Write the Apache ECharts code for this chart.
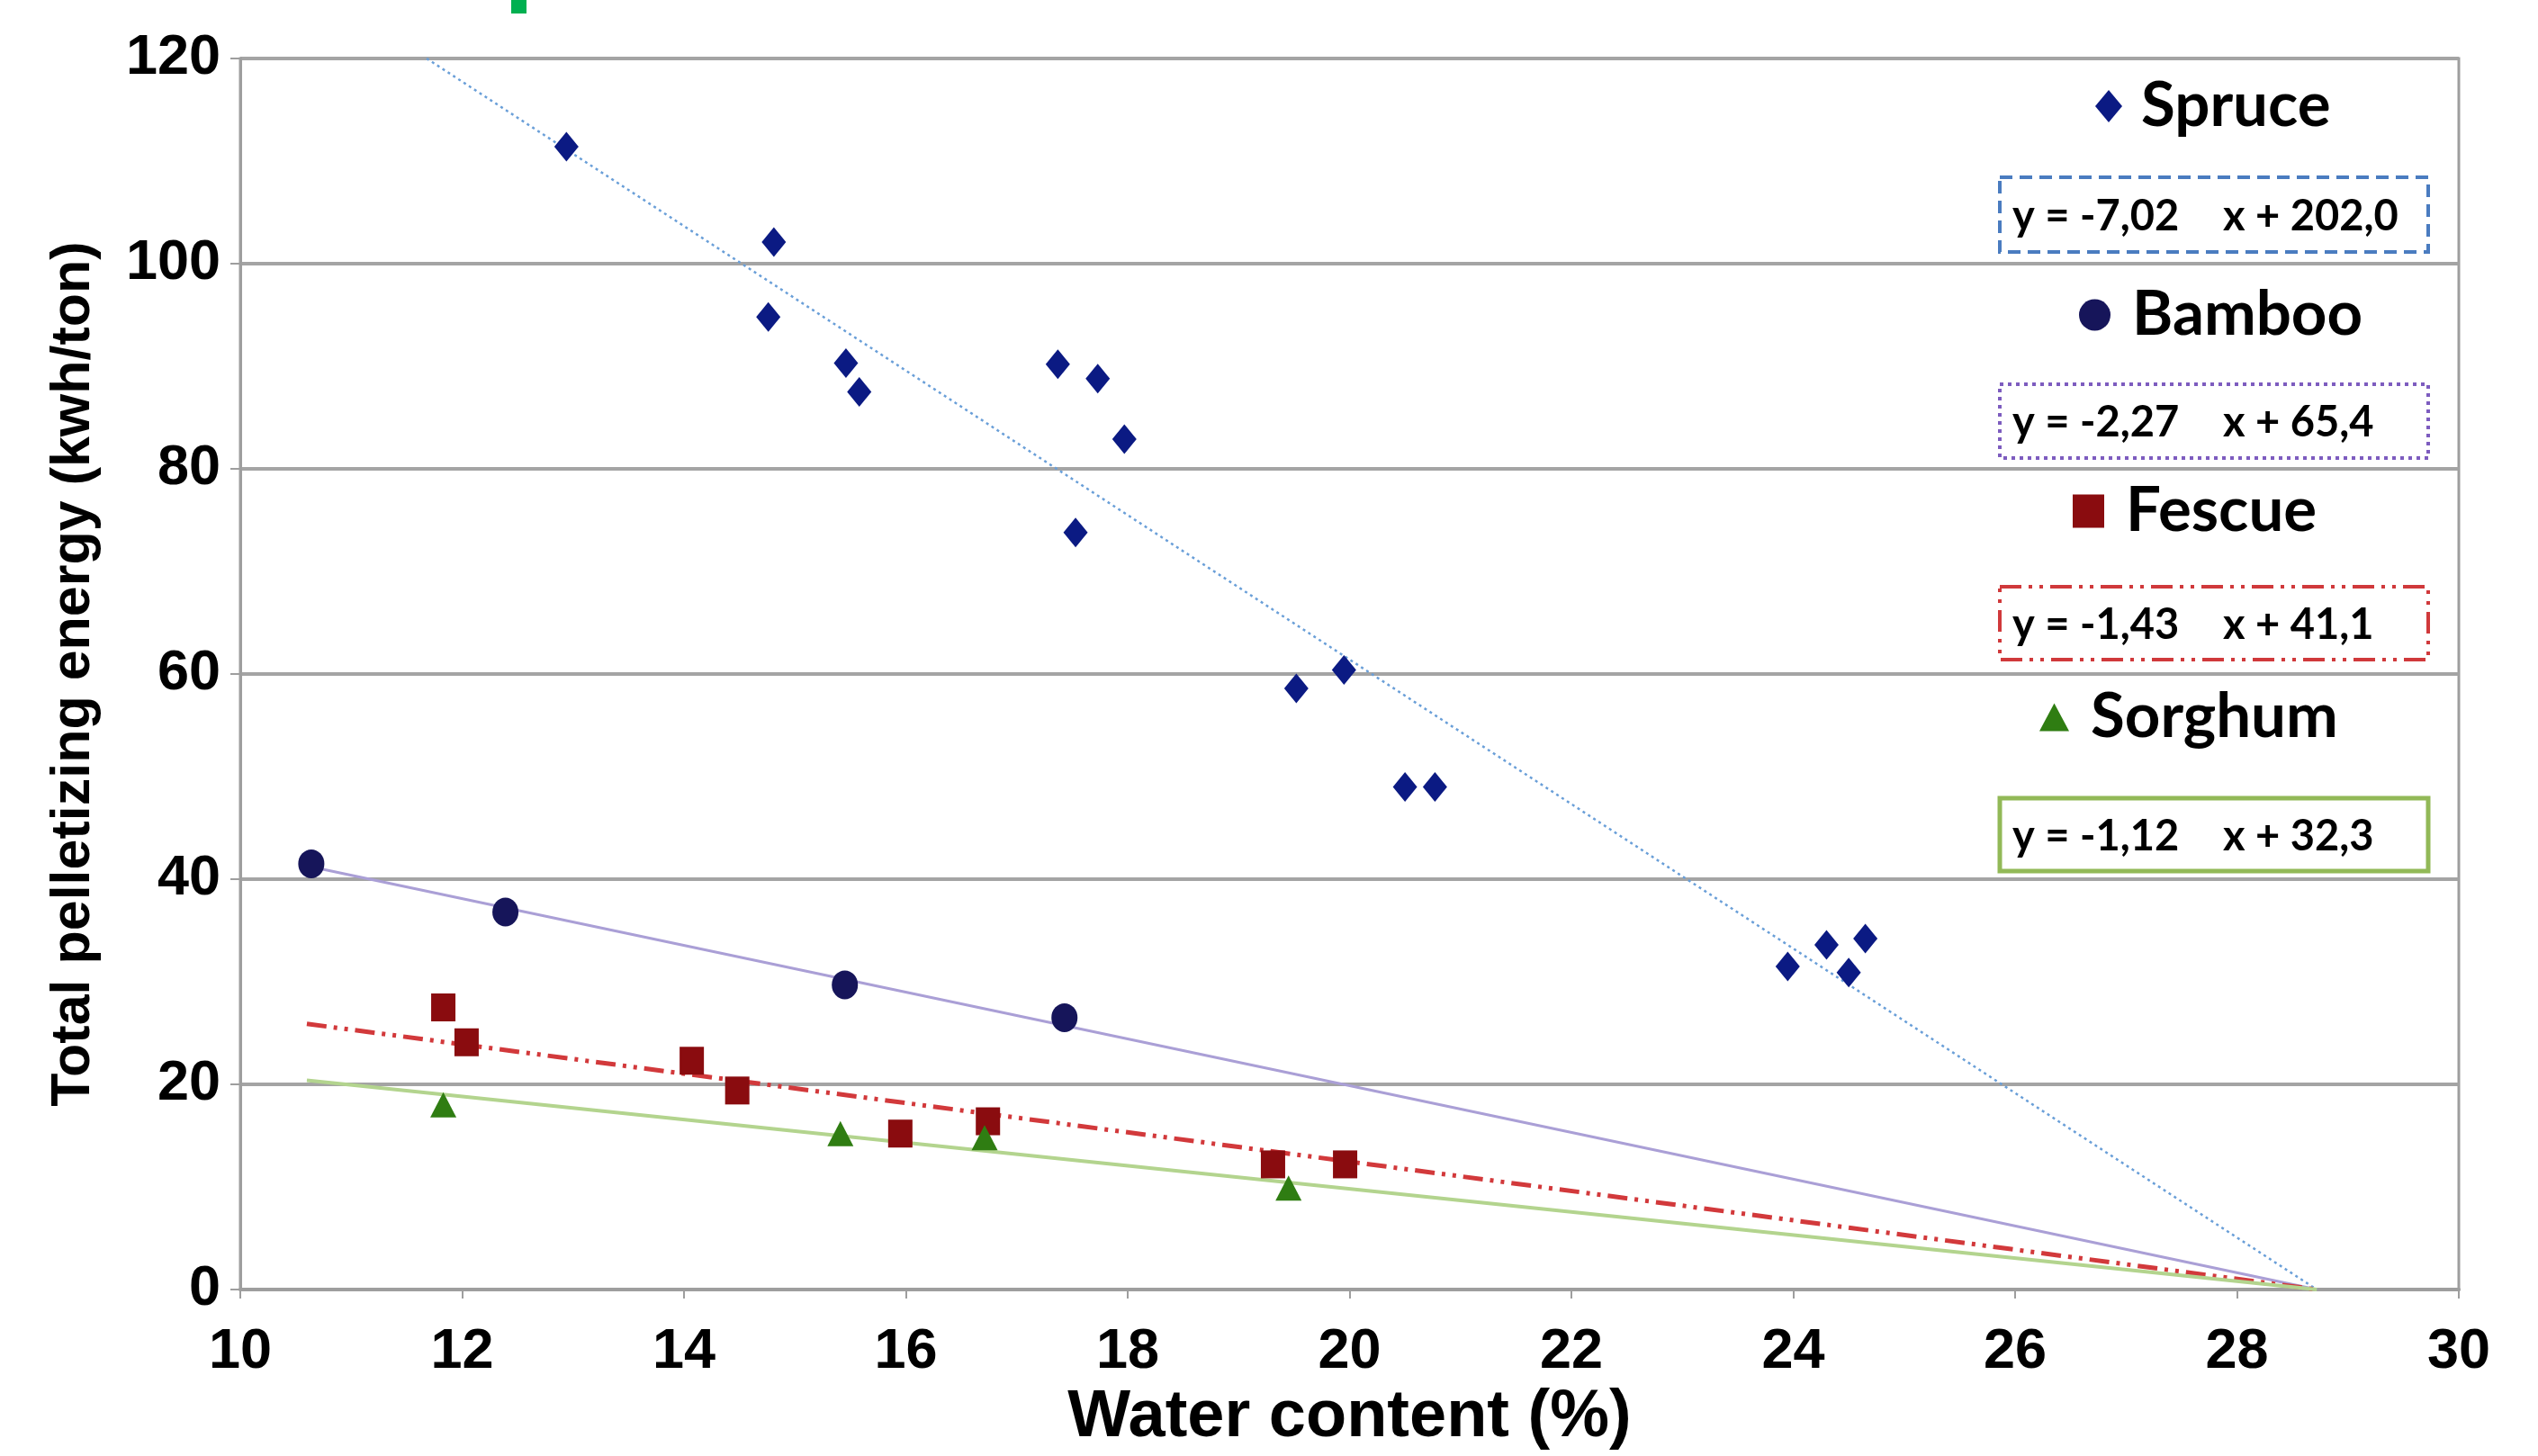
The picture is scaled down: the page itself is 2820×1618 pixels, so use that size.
<!DOCTYPE html>
<html>
<head>
<meta charset="utf-8">
<script src="https://cdn.jsdelivr.net/npm/echarts@6/dist/echarts.min.js"></script>
<style>
html,body{margin:0;padding:0;background:#fff;}
#chart{width:2820px;height:1618px;}
</style>
</head>
<body>
<div id="chart"></div>
<script>
// ---- data ----
const seriesNames = ['Spruce', 'Bamboo', 'Fescue', 'Sorghum'];

const spruceX = [12.94, 14.81, 14.76, 15.46, 15.58, 17.37, 17.73, 17.97, 17.53, 19.52, 19.95, 20.50, 20.77, 23.95, 24.30, 24.50, 24.65];
const spruceY = [111.4, 102.1, 94.8, 90.3, 87.5, 90.2, 88.8, 82.9, 73.8, 58.6, 60.4, 49.0, 49.0, 31.5, 33.6, 30.9, 34.2];

const bambooX = [10.64, 12.39, 15.45, 17.43];
const bambooY = [41.5, 36.8, 29.7, 26.5];

const fescueX = [11.83, 12.04, 14.07, 14.48, 15.95, 16.74, 19.31, 19.96];
const fescueY = [27.5, 24.1, 22.3, 19.4, 15.2, 16.4, 12.2, 12.2];

const sorghumX = [11.83, 15.41, 16.71, 19.45];
const sorghumY = [18.0, 15.2, 14.8, 9.9];

// trend-line end points (x, y) as drawn in the reference
const spruceTrend = [[11.68, 120], [28.72, 0]];
const bambooTrend = [[10.6, 41.3], [28.72, 0]];
const fescueTrend = [[10.6, 25.9], [28.72, 0]];
const sorghumTrend = [[10.6, 20.4], [28.72, 0]];

const equations = [
  ['y = -7,02', 'x + 202,0'],
  ['y = -2,27', 'x + 65,4'],
  ['y = -1,43', 'x + 41,1'],
  ['y = -1,12', 'x + 32,3']
];

const xTickMin = 10, xTickMax = 30, xTickStep = 2;
const yTickMin = 0, yTickMax = 120, yTickStep = 20;

const xTitle = 'Water content (%)';
const yTitle = 'Total pelletizing energy (kwh/ton)';

// ---- helpers ----
const zip = (xs, ys) => xs.map((x, i) => [x, ys[i]]);

const AXIS_FONT = "'Liberation Sans Narrow', 'Arial Narrow', 'Liberation Sans', Arial, sans-serif";
const LEG_FONT = "Lato, 'Open Sans', sans-serif";

const colors = {
  Spruce: '#0b1a83',
  Bamboo: '#16155a',
  Fescue: '#8a0c0f',
  Sorghum: '#2f7d12'
};

function legendItem(name, icon, left, top, iw, ih, gap) {
  return {
    data: [{ name: name, icon: icon }],
    left: left, top: top,
    padding: 0,
    itemWidth: iw, itemHeight: ih,
    selectedMode: false,
    textStyle: {
      fontFamily: LEG_FONT, fontWeight: 'bold', fontSize: 69,
      color: '#000', lineHeight: 72, padding: [0, 0, 0, gap]
    }
  };
}

// equation boxes (annotation)
const boxDefs = [
  { y: 197, h: 83, stroke: '#4a7cc0', dash: [14, 8], w: 4 },
  { y: 427, h: 82, stroke: '#7d5cbf', dash: [4, 5], w: 4 },
  { y: 652, h: 81, stroke: '#d0393b', dash: [24, 8, 4, 8, 4, 8], w: 4 },
  { y: 887, h: 81, stroke: '#92b957', dash: null, w: 5 }
];
const graphics = [];
boxDefs.forEach((b, i) => {
  graphics.push({
    type: 'rect', z: 100,
    shape: { x: 2222, y: b.y, width: 476, height: b.h },
    style: { fill: '#fff', stroke: b.stroke, lineWidth: b.w, lineDash: b.dash || null }
  });
  graphics.push({
    type: 'text', z: 101, x: 2236, y: b.y + b.h / 2 + 2,
    style: { text: equations[i][0], font: "bold 47px " + LEG_FONT, fill: '#000', verticalAlign: 'middle', align: 'left' }
  });
  graphics.push({
    type: 'text', z: 101, x: 2470, y: b.y + b.h / 2 + 2,
    style: { text: equations[i][1], font: "bold 47px " + LEG_FONT, fill: '#000', verticalAlign: 'middle', align: 'left' }
  });
});
// small green mark at the top
graphics.push({ type: 'rect', shape: { x: 568, y: 0, width: 17, height: 15 }, style: { fill: '#00b050' } });

const chart = echarts.init(document.getElementById('chart'), null, { renderer: 'canvas' });

const option = {
  backgroundColor: '#fff',
  animation: false,
  grid: {
    left: 267, right: 88, top: 65, bottom: 174,
    show: true, borderColor: '#9e9e9e', borderWidth: 3
  },
  xAxis: {
    type: 'value', min: xTickMin, max: xTickMax, interval: xTickStep,
    name: xTitle, nameLocation: 'middle', nameGap: 106,
    nameTextStyle: { fontFamily: AXIS_FONT, fontWeight: 'bold', fontSize: 74, color: '#000' },
    axisLine: { show: true, lineStyle: { color: '#9e9e9e', width: 4 } },
    axisTick: { show: true, length: 10, lineStyle: { color: '#9e9e9e', width: 2 } },
    axisLabel: { fontFamily: AXIS_FONT, fontWeight: 'bold', fontSize: 63, color: '#000', margin: 38 },
    splitLine: { show: false }
  },
  yAxis: {
    type: 'value', min: yTickMin, max: yTickMax, interval: yTickStep,
    name: yTitle, nameLocation: 'middle', nameGap: 154, nameRotate: 90,
    nameTextStyle: { fontFamily: AXIS_FONT, fontWeight: 'bold', fontSize: 61, color: '#000' },
    axisLine: { show: true, lineStyle: { color: '#9e9e9e', width: 3 } },
    axisTick: { show: true, length: 11, lineStyle: { color: '#9e9e9e', width: 2 } },
    axisLabel: { fontFamily: AXIS_FONT, fontWeight: 'bold', fontSize: 63, color: '#000', margin: 22 },
    splitLine: { show: true, lineStyle: { color: '#a4a4a4', width: 4 } }
  },
  legend: [
    legendItem('Spruce', 'diamond', 2328, 82, 30, 36, 16),
    legendItem('Bamboo', 'circle', 2310, 314, 35, 37, 19),
    legendItem('Fescue', 'rect', 2303, 532, 35, 37, 19),
    legendItem('Sorghum', 'triangle', 2266, 761, 33, 31, 19)
  ],
  graphic: graphics,
  series: [
    { name: 'Spruce trend', type: 'line', data: spruceTrend, symbol: 'none', silent: true, z: 2,
      lineStyle: { color: '#6a9fd8', width: 2.5, type: [3, 4] } },
    { name: 'Bamboo trend', type: 'line', data: bambooTrend, symbol: 'none', silent: true, z: 2,
      lineStyle: { color: '#aa9fd6', width: 3 } },
    { name: 'Fescue trend', type: 'line', data: fescueTrend, symbol: 'none', silent: true, z: 2,
      lineStyle: { color: '#d2393b', width: 5, type: [22, 8, 4, 8, 4, 8] } },
    { name: 'Sorghum trend', type: 'line', data: sorghumTrend, symbol: 'none', silent: true, z: 2,
      lineStyle: { color: '#b3d48e', width: 4 } },
    { name: 'Spruce', type: 'scatter', data: zip(spruceX, spruceY), symbol: 'diamond', symbolSize: [27, 33],
      itemStyle: { color: colors.Spruce, opacity: 1 }, z: 5 },
    { name: 'Bamboo', type: 'scatter', data: zip(bambooX, bambooY), symbol: 'circle', symbolSize: [29, 32],
      itemStyle: { color: colors.Bamboo, opacity: 1 }, z: 5 },
    { name: 'Fescue', type: 'scatter', data: zip(fescueX, fescueY), symbol: 'rect', symbolSize: [27, 31],
      itemStyle: { color: colors.Fescue, opacity: 1 }, z: 5 },
    { name: 'Sorghum', type: 'scatter', data: zip(sorghumX, sorghumY), symbol: 'triangle', symbolSize: [29, 28],
      itemStyle: { color: colors.Sorghum, opacity: 1 }, z: 5 }
  ]
};
chart.setOption(option);
</script>
</body>
</html>
